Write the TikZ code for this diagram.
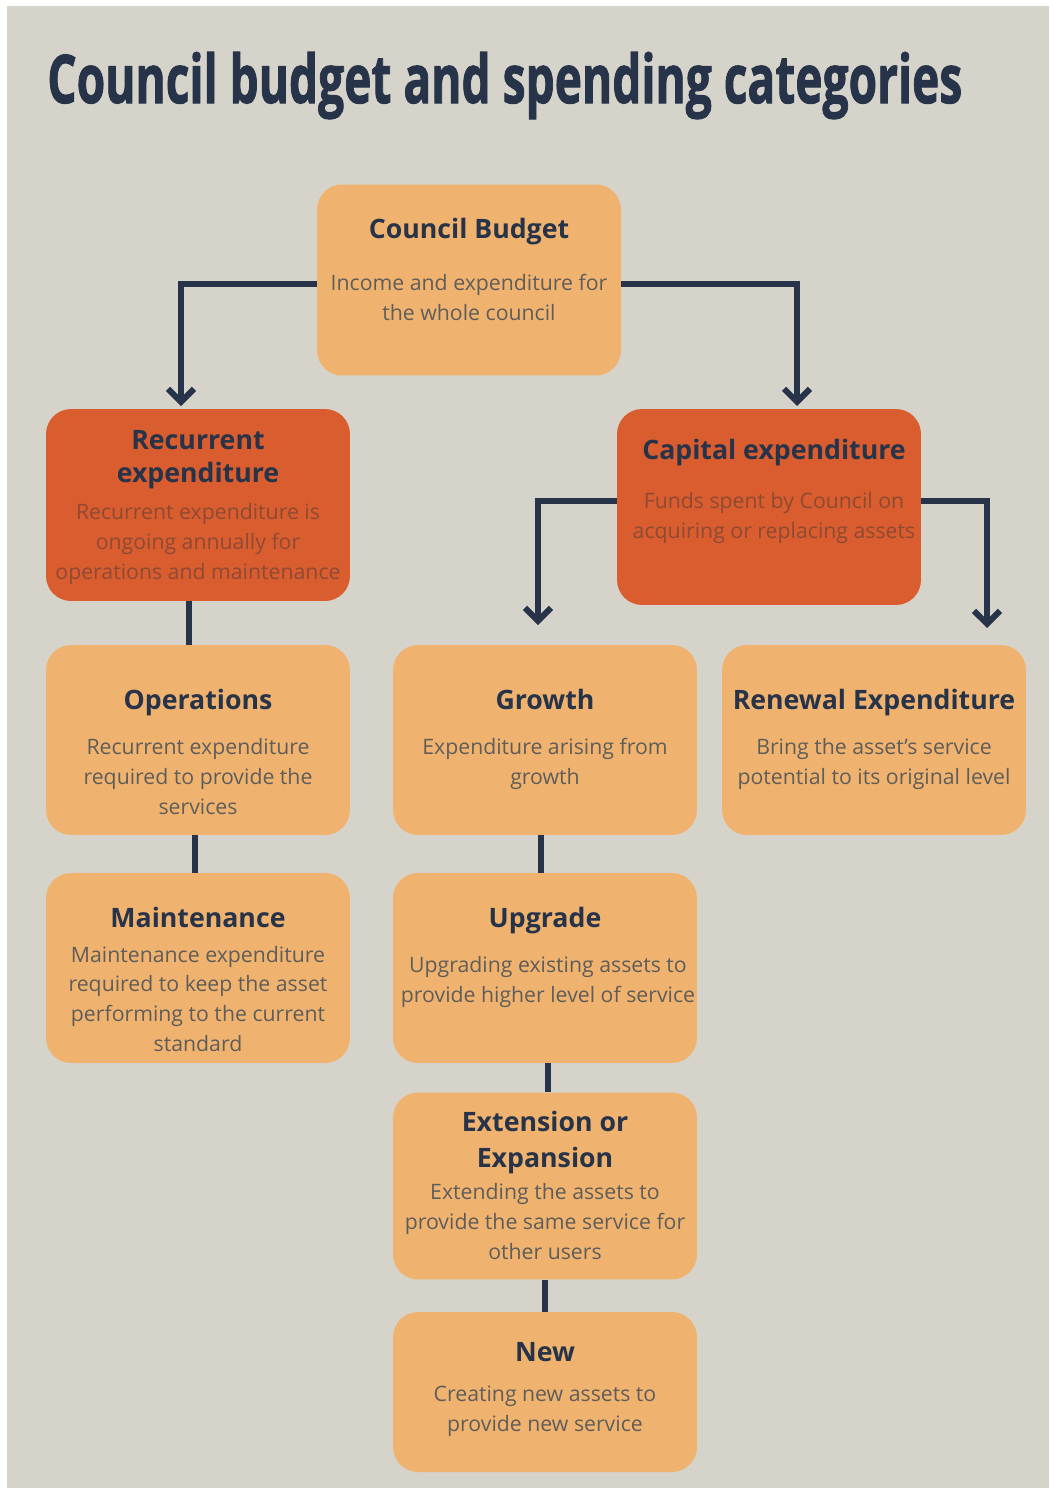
\documentclass[tikz,border=0pt]{standalone}
\usepackage{fontspec}
\setmainfont{Open Sans}
\newfontfamily\titlefont{Open Sans}[BoldFeatures={FakeBold=1.6}]
\usetikzlibrary{arrows.meta,positioning}

\definecolor{paper}{HTML}{D6D3CA}
\definecolor{lightOrange}{HTML}{F0B36F}
\definecolor{darkOrange}{HTML}{D95D2F}
\definecolor{navy}{HTML}{263348}
\definecolor{bodyGrey}{HTML}{5F5D5A}
\definecolor{darkBody}{HTML}{8E4A33}

\begin{document}
\begin{tikzpicture}[x=0.02cm,y=-0.02cm,
				lightBox/.style={fill=lightOrange,rounded corners=0.5cm,minimum width=6.08cm,inner sep=0pt},
				darkBox/.style={fill=darkOrange,rounded corners=0.5cm,minimum width=6.08cm,inner sep=0pt},
				boxTitle/.style={anchor=base,align=center,inner sep=0pt,text=navy,font=\fontsize{15.2}{18.4}\selectfont\bfseries},
				boxText/.style={anchor=base,align=center,inner sep=0pt,text=bodyGrey,font=\fontsize{12.1}{16.8}\selectfont},
				darkText/.style={boxText,text=darkBody},
				link/.style={draw=navy,line width=0.12cm},
				arrowLink/.style={link,-{Straight Barb[length=0.26cm,width=0.52cm,line width=0.12cm]}}]
			% page
			\fill[white] (0,0) rectangle (1049,1488);
			\fill[paper] (7,6) rectangle (1049,1488);
			\node[anchor=base west,inner sep=0pt,text=navy] (title) at (47,103)
				{\resizebox{18.3cm}{1.02cm}{\titlefont\bfseries Council budget and spending categories}};

			% boxes
			\node[lightBox,minimum height=3.82cm] (budget) at (469,280) {};
			\node[darkBox,minimum height=3.84cm] (rec) at (198,505) {};
			\node[darkBox,minimum height=3.92cm] (cap) at (769,507) {};
			\node[lightBox,minimum height=3.8cm] (ops) at (198,740) {};
			\node[lightBox,minimum height=3.8cm] (growth) at (545,740) {};
			\node[lightBox,minimum height=3.8cm] (renewal) at (874,740) {};
			\node[lightBox,minimum height=3.8cm] (maint) at (198,968) {};
			\node[lightBox,minimum height=3.8cm] (upgrade) at (545,968) {};
			\node[lightBox,minimum height=3.74cm] (ext) at (545,1186) {};
			\node[lightBox,minimum height=3.2cm] (new) at (545,1392) {};

			% texts (base = last line)
			\node[boxTitle] (budgetT) at (469,238) {Council Budget};
			\node[boxText] (budgetB) at (469,320) {Income and expenditure for\\the whole council};
			\node[boxTitle] (recT) at (198,482) {Recurrent\\expenditure};
			\node[darkText] (recB) at (198,579) {Recurrent expenditure is\\ongoing annually for\\operations and maintenance};
			\node[boxTitle] (capT) at (774,459) {Capital expenditure};
			\node[darkText] (capB) at (774,538) {Funds spent by Council on\\acquiring or replacing assets};
			\node[boxTitle] (opsT) at (198,709) {Operations};
			\node[boxText] (opsB) at (198,814) {Recurrent expenditure\\required to provide the\\services};
			\node[boxTitle] (growthT) at (545,709) {Growth};
			\node[boxText] (growthB) at (545,784) {Expenditure arising from\\growth};
			\node[boxTitle] (renewalT) at (874,709) {Renewal Expenditure};
			\node[boxText] (renewalB) at (874,784) {Bring the asset's service\\potential to its original level};
			\node[boxTitle] (maintT) at (198,927) {Maintenance};
			\node[boxText] (maintB) at (198,1051) {Maintenance expenditure\\required to keep the asset\\performing to the current\\standard};
			\node[boxTitle] (upgradeT) at (545,927) {Upgrade};
			\node[boxText] (upgradeB) at (548,1002) {Upgrading existing assets to\\provide higher level of service};
			\node[boxTitle,font=\fontsize{15.2}{20.4}\selectfont\bfseries] (extT) at (545,1167) {Extension or\\Expansion};
			\node[boxText] (extB) at (545,1259) {Extending the assets to\\provide the same service for\\other users};
			\node[boxTitle] (newT) at (545,1361) {New};
			\node[boxText] (newB) at (545,1431) {Creating new assets to\\provide new service};

			% connectors
			\coordinate (recIn) at (181,406);
			\coordinate (capIn) at (797,406);
			\coordinate (growthIn) at (538,625);
			\coordinate (renewalIn) at (987,628);
			\draw[arrowLink] ([yshift=-0.08cm]budget.west) -| (recIn);
			\draw[arrowLink] ([yshift=-0.08cm]budget.east) -| (capIn);
			\draw[arrowLink] ([yshift=0.12cm]cap.west) -| (growthIn);
			\draw[arrowLink] ([yshift=0.12cm]cap.east) -| (renewalIn);
			\draw[link] ([xshift=-0.18cm]rec.south) -- ([xshift=-0.18cm]ops.north);
			\draw[link] ([xshift=-0.06cm]ops.south) -- ([xshift=-0.06cm]maint.north);
			\draw[link] ([xshift=-0.08cm]growth.south) -- ([xshift=-0.08cm]upgrade.north);
			\draw[link] ([xshift=0.06cm]upgrade.south) -- ([xshift=0.06cm]ext.north);
			\draw[link] (ext.south) -- (new.north);
		\end{tikzpicture}
\end{document}
